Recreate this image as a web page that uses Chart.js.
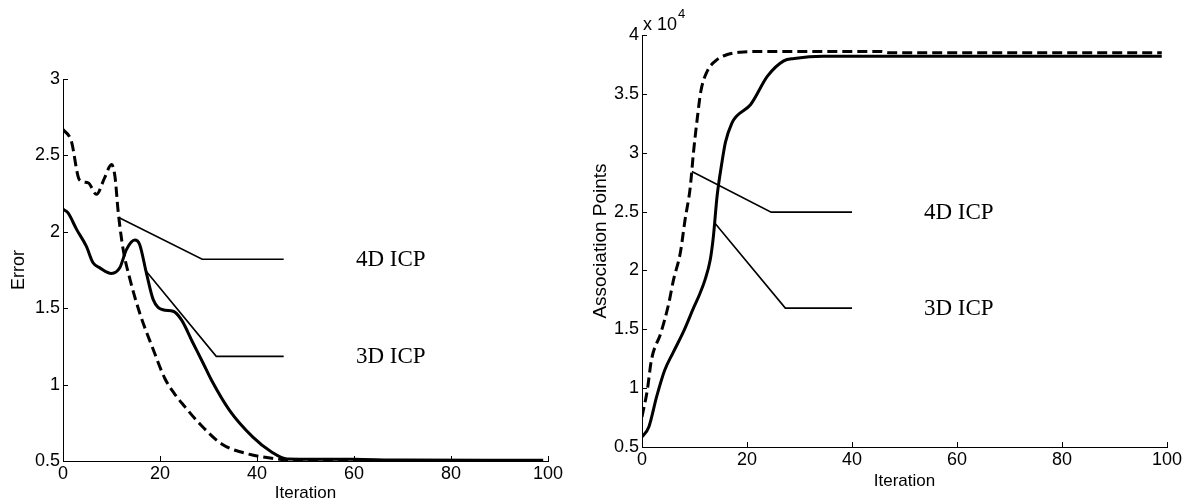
<!DOCTYPE html>
<html>
<head>
<meta charset="utf-8">
<script src="https://cdn.jsdelivr.net/npm/chart.js@4.4.0/dist/chart.umd.min.js"></script>
<style>
  html, body { margin:0; padding:0; background:#fff; }
  #wrap { position:relative; width:1189px; height:504px; overflow:hidden; }
  #c1 { position:absolute; left:0; top:0; }
  #c2 { position:absolute; left:589px; top:0; }
</style>
</head>
<body>
<div id="wrap">
  <canvas id="c1" width="589" height="504"></canvas>
  <canvas id="c2" width="600" height="504"></canvas>
</div>
<script>
// ---------- Left panel: Error vs Iteration ----------
const errIter4D = [0,1.7,3.4,5.2,6.9,8.6,10,10.7,11.4,12.4,13.8,15.8,18.6,21,23,25,28,32.8,38.3,43.8,47,55,70,99];
const errVal4D  = [2.67,2.595,2.34,2.32,2.245,2.355,2.44,2.365,2.125,1.885,1.69,1.47,1.23,1.04,0.94,0.86,0.75,0.61,0.545,0.515,0.505,0.502,0.501,0.501];
const errIter3D = [0,1,2.8,4.8,6.2,7.6,10,11.7,13.1,14.8,15.8,17.2,18.6,20.6,22.7,24.4,26.8,28.9,30.6,34.3,39.1,43,46.2,50,60,70,99];
const errVal3D  = [2.147,2.125,2.016,1.906,1.797,1.764,1.727,1.764,1.885,1.946,1.917,1.73,1.556,1.49,1.48,1.425,1.272,1.14,1.03,0.833,0.658,0.559,0.513,0.512,0.511,0.506,0.505];

// ---------- Right panel: Association Points (x 10^4) vs Iteration ----------
const apIter4D = [0,1,1.8,3.6,5.1,6.0,7.3,8.2,9.2,9.8,10.5,11.2,12.4,14,16,18.7,21.9,45.6,47,99];
const apVal4D  = [0.756,0.98,1.24,1.47,1.72,1.92,2.15,2.43,2.71,3.0,3.28,3.52,3.69,3.78,3.83,3.854,3.86,3.86,3.85,3.85];
const apIter3D = [0,1.3,2.8,4.3,5.9,7.9,9.9,11,12,13,13.6,14.3,15.2,15.9,17.1,18,20.7,23.9,27,29,34.5,99];
const apVal3D  = [0.585,0.67,0.93,1.15,1.3,1.48,1.69,1.80,1.92,2.09,2.29,2.63,2.91,3.09,3.25,3.31,3.41,3.65,3.78,3.80,3.82,3.82];

// ---------- Tick labels ----------
const xTicks      = [0,20,40,60,80,100];
const errTicks    = [0.5,1,1.5,2,2.5,3];
const apTicks     = [0.5,1,1.5,2,2.5,3,3.5,4];
const seriesNames = ['4D ICP','3D ICP'];

// ---------- Callouts (data coordinates: start, elbow, end, label) ----------
const errCallout4D = [[11.7,2.09],[28.7,1.82],[45.5,1.82],[60.4,1.82]];
const errCallout3D = [[17.2,1.74],[31.6,1.185],[45.5,1.185],[60.4,1.185]];
const apCallout4D  = [[9.5,2.84],[24.6,2.495],[40,2.495],[53.7,2.495]];
const apCallout3D  = [[13.9,2.40],[27.3,1.68],[40,1.68],[53.7,1.68]];

const zip = (xs, ys) => xs.map((x, i) => ({x, y: ys[i]}));

const extras = {
  id: 'extras',
  afterDraw(chart, args, opts) {
    const {ctx, scales} = chart;
    const x = scales.x, y = scales.y;
    ctx.save();
    ctx.strokeStyle = '#000';
    ctx.lineWidth = 1;
    xTicks.forEach(v => {
      const px = Math.round(x.getPixelForValue(v)) + 0.5;
      ctx.beginPath(); ctx.moveTo(px, y.bottom); ctx.lineTo(px, y.bottom - 5); ctx.stroke();
    });
    opts.yTicks.forEach(v => {
      const py = Math.round(y.getPixelForValue(v)) + 0.5;
      ctx.beginPath(); ctx.moveTo(x.left, py); ctx.lineTo(x.left + 5, py); ctx.stroke();
    });
    ctx.lineWidth = 1.6;
    ctx.font = '23px "Liberation Serif", "Times New Roman", serif';
    ctx.fillStyle = '#000';
    ctx.textBaseline = 'middle';
    ctx.textAlign = 'left';
    opts.callouts.forEach((c, i) => {
      ctx.beginPath();
      for (let k = 0; k < 3; k++) {
        const px = x.getPixelForValue(c[k][0]), py = y.getPixelForValue(c[k][1]);
        if (k === 0) ctx.moveTo(px, py); else ctx.lineTo(px, py);
      }
      ctx.stroke();
      ctx.fillText(seriesNames[i], x.getPixelForValue(c[3][0]), y.getPixelForValue(c[3][1]) + 1);
    });
    if (opts.exponent) {
      ctx.textBaseline = 'alphabetic';
      ctx.font = '18px "Liberation Sans", Arial, sans-serif';
      const lx = x.left + 1, ly = y.top - 5;
      ctx.fillText('x 10', lx, ly);
      const w = ctx.measureText('x 10').width;
      ctx.font = '13px "Liberation Sans", Arial, sans-serif';
      ctx.fillText('4', lx + w + 1, ly - 12);
    }
    ctx.restore();
  }
};

function makeChart(id, cfg) {
  const sansFont = {family: '"Liberation Sans", Arial, sans-serif', size: 18};
  const xTitleFont = {family: '"Liberation Sans", Arial, sans-serif', size: 17};
  const yTitleFont = {family: '"Liberation Sans", Arial, sans-serif', size: cfg.yTitleSize};
  return new Chart(document.getElementById(id), {
    type: 'line',
    data: {
      datasets: [
        {label: seriesNames[0], data: cfg.d4, borderColor: '#000', borderWidth: 3, borderDash: [10, 5],
         pointRadius: 0, cubicInterpolationMode: 'monotone', fill: false},
        {label: seriesNames[1], data: cfg.d3, borderColor: '#000', borderWidth: 3,
         pointRadius: 0, cubicInterpolationMode: 'monotone', fill: false}
      ]
    },
    options: {
      responsive: false,
      animation: false,
      layout: {padding: cfg.padding},
      plugins: {legend: {display: false}, tooltip: {enabled: false},
                extras: {yTicks: cfg.yTicks, callouts: cfg.callouts, exponent: cfg.exponent}},
      scales: {
        x: {
          type: 'linear', min: 0, max: 100,
          afterBuildTicks: s => { s.ticks = xTicks.map(v => ({value: v})); },
          afterFit: s => { s.height = cfg.xHeight; },
          grid: {display: true, drawOnChartArea: false, drawTicks: false},
          border: {display: true, color: '#000', width: 1},
          ticks: {color: '#000', font: sansFont, padding: 2, maxRotation: 0, autoSkip: false},
          title: {display: true, text: 'Iteration', color: '#000', font: xTitleFont, padding: {top: 0, bottom: 0}}
        },
        y: {
          type: 'linear', min: cfg.yMin, max: cfg.yMax,
          afterBuildTicks: s => { s.ticks = cfg.yTicks.map(v => ({value: v})); },
          afterFit: s => { s.width = cfg.yWidth; },
          grid: {display: true, drawOnChartArea: false, drawTicks: false},
          border: {display: true, color: '#000', width: 1},
          ticks: {color: '#000', font: sansFont, padding: 3, autoSkip: false,
                  callback: v => String(v)},
          title: {display: true, text: cfg.yTitle, color: '#000', font: yTitleFont, padding: cfg.yTitlePad}
        }
      }
    },
    plugins: [extras]
  });
}

makeChart('c1', {
  d4: zip(errIter4D, errVal4D), d3: zip(errIter3D, errVal3D),
  yMin: 0.5, yMax: 3, yTicks: errTicks, yTitle: 'Error', yTitleSize: 18,
  padding: {top: 79, right: 41, left: 0, bottom: 0},
  xHeight: 43, yWidth: 63, yTitlePad: {top: 8, bottom: 0},
  callouts: [errCallout4D, errCallout3D], exponent: false
});

makeChart('c2', {
  d4: zip(apIter4D, apVal4D), d3: zip(apIter3D, apVal3D),
  yMin: 0.5, yMax: 4, yTicks: apTicks, yTitle: 'Association Points', yTitleSize: 19,
  padding: {top: 35, right: 22, left: 0, bottom: 12},
  xHeight: 45, yWidth: 53, yTitlePad: {top: 0, bottom: 0},
  callouts: [apCallout4D, apCallout3D], exponent: true
});
</script>
</body>
</html>
